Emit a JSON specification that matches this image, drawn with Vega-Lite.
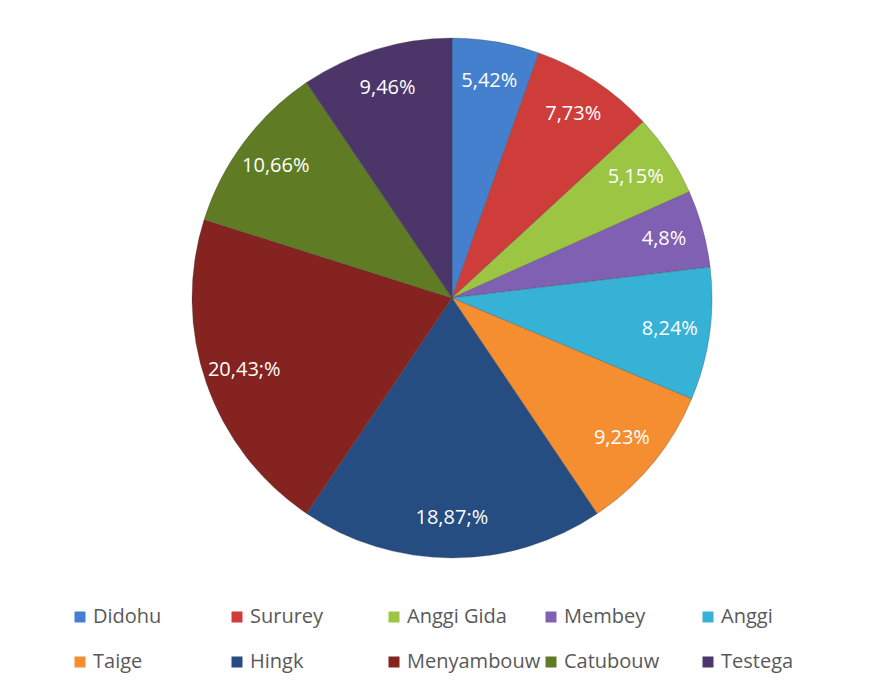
{
  "$schema": "https://vega.github.io/schema/vega-lite/v6.json",
  "width": 886,
  "height": 596,
  "autosize": {"type": "none"},
  "padding": {"left": 9, "top": 0, "right": 0, "bottom": 96},
  "background": "white",
  "view": {"stroke": null},
  "data": {
    "values": [
      {"idx": 1, "name": "Didohu", "value": 5.42, "label": "5,42%"},
      {"idx": 2, "name": "Sururey", "value": 7.73, "label": "7,73%"},
      {"idx": 3, "name": "Anggi Gida", "value": 5.15, "label": "5,15%"},
      {"idx": 4, "name": "Membey", "value": 4.8, "label": "4,8%"},
      {"idx": 5, "name": "Anggi", "value": 8.24, "label": "8,24%"},
      {"idx": 6, "name": "Taige", "value": 9.23, "label": "9,23%"},
      {"idx": 7, "name": "Hingk", "value": 18.87, "label": "18,87;%"},
      {"idx": 8, "name": "Menyambouw", "value": 20.43, "label": "20,43;%"},
      {"idx": 9, "name": "Catubouw", "value": 10.66, "label": "10,66%"},
      {"idx": 10, "name": "Testega", "value": 9.46, "label": "9,46%"}
    ]
  },
  "encoding": {
    "theta": {"field": "value", "type": "quantitative", "stack": true},
    "order": {"field": "idx", "type": "quantitative"},
    "detail": {"field": "name", "type": "nominal"}
  },
  "layer": [
    {
      "mark": {"type": "arc", "outerRadius": 260, "stroke": "#3a3a3a", "strokeOpacity": 0.35, "strokeWidth": 0.8},
      "encoding": {
        "color": {
          "field": "name",
          "type": "nominal",
          "scale": {
            "domain": ["Didohu", "Sururey", "Anggi Gida", "Membey", "Anggi", "Taige", "Hingk", "Menyambouw", "Catubouw", "Testega"],
            "range": ["#4580CE", "#CF3D3B", "#9CC544", "#8060B2", "#36B2D6", "#F58E31", "#254D82", "#84231F", "#5F7C24", "#4C3569"]
          },
          "legend": {
            "orient": "none",
            "legendX": 61,
            "legendY": 607,
            "direction": "horizontal",
            "columns": 5,
            "title": null,
            "symbolType": "square",
            "symbolSize": 121,
            "symbolStrokeWidth": 0,
            "labelFontSize": 20,
            "labelFont": "Open Sans",
            "labelColor": "#595959",
            "labelLimit": 300,
            "labelOffset": 3,
            "gridAlign": "all",
            "columnPadding": -2,
            "rowPadding": 25
          }
        }
      }
    },
    {
      "mark": {"type": "text", "radius": 220, "fontSize": 20, "font": "Open Sans", "fill": "white"},
      "encoding": {
        "text": {"field": "label", "type": "nominal"}
      }
    }
  ]
}
